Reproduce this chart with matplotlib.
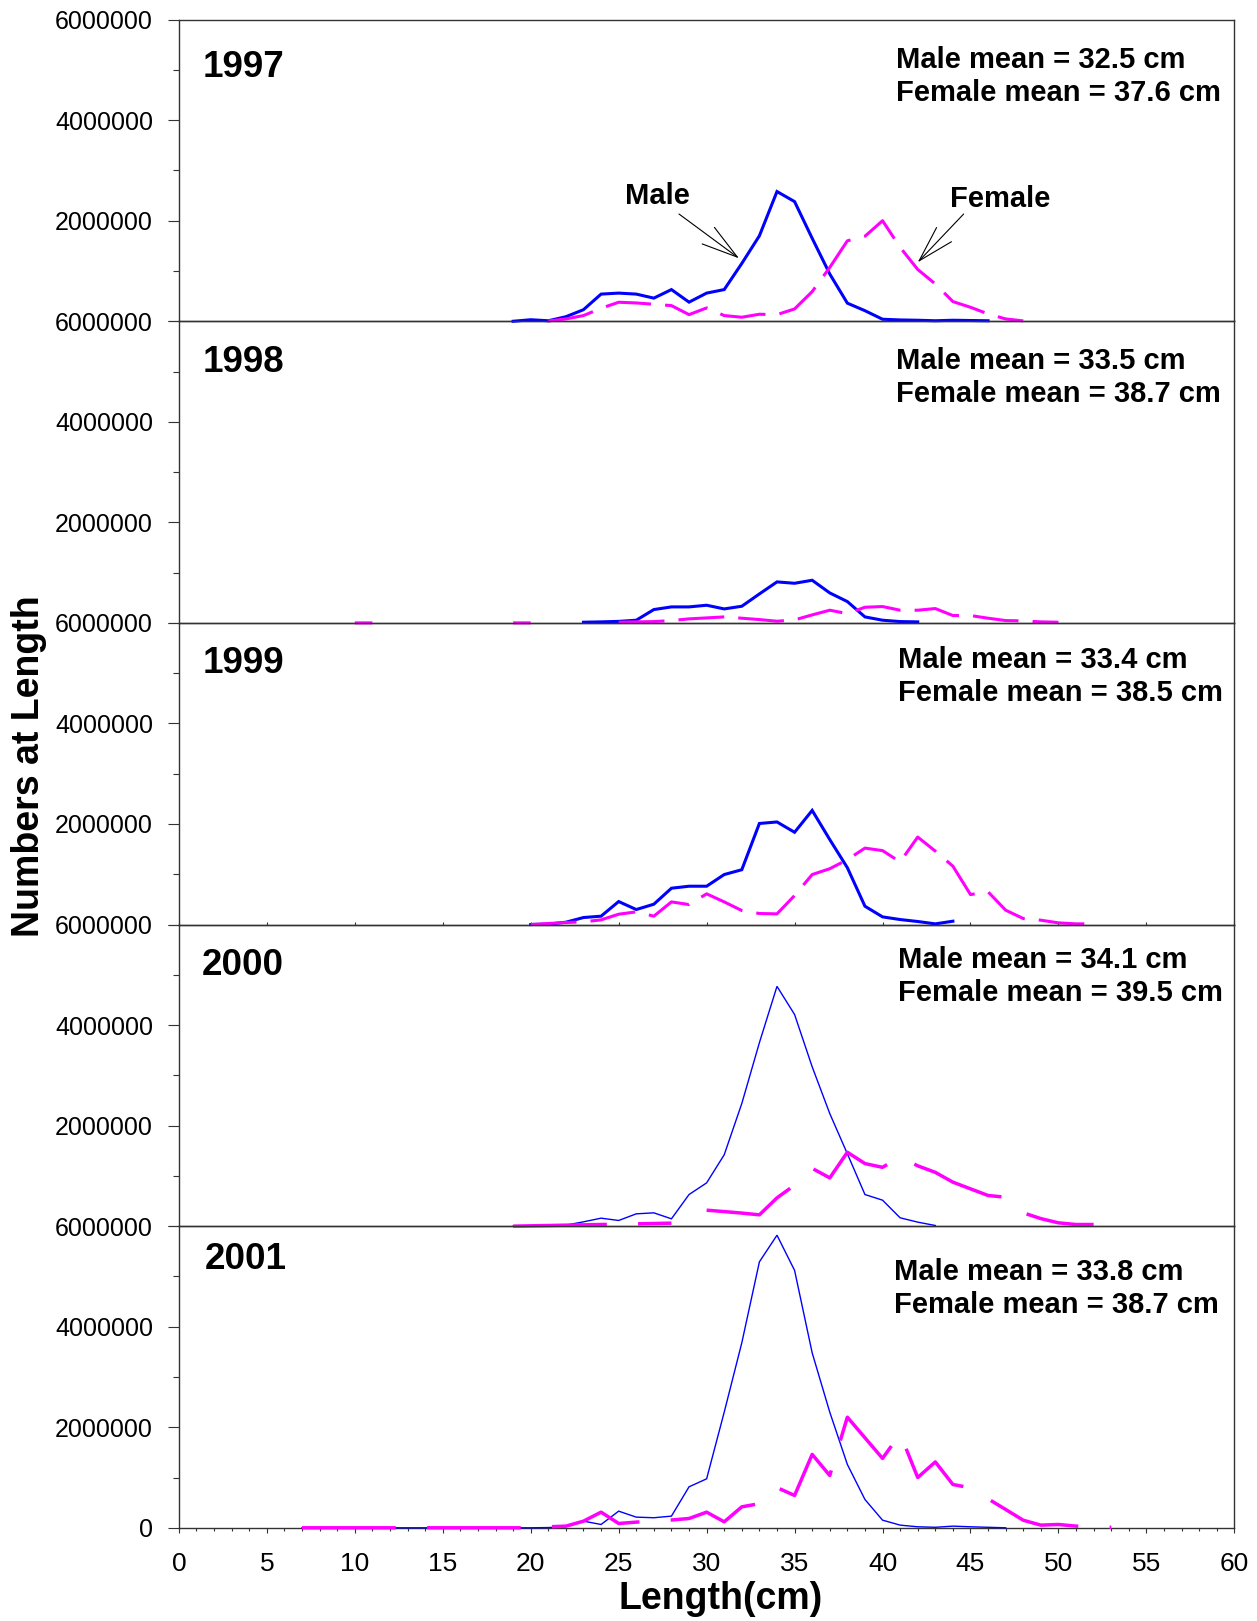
import numpy as np
import matplotlib
matplotlib.use("Agg")
import matplotlib.pyplot as plt
from matplotlib.ticker import MultipleLocator, FixedLocator

plt.rcParams["font.family"] = ["Liberation Sans", "DejaVu Sans"]

nan = np.nan

# numbers at length, by year and sex (cm -> count)
len_m_1997 = np.arange(19, 47)
male_1997 = [0, 30000, 10000, 90000, 230000, 540000, 560000, 540000, 460000, 630000,
             380000, 560000, 630000, 1150000, 1700000, 2580000, 2380000, 1650000,
             940000, 360000, 210000, 40000, 26000, 20000, 10000, 20000, 15000, 10000]
len_f_1997 = np.arange(21, 49)
female_1997 = [5000, 46000, 113000, 258000, 378000, 364000, 338000, 311000, 132000,
               265000, 113000, 80000, 139000, 132000, 245000, 590000, 1070000,
               1600000, 1690000, 2000000, 1470000, 1030000, 742000, 391000, 278000,
               146000, 46000, 7000]

len_m_1998 = np.arange(23, 43)
male_1998 = [13000, 20000, 30000, 53000, 265000, 318000, 318000, 351000, 278000,
             331000, 576000, 815000, 788000, 848000, 596000, 424000, 119000, 53000,
             26000, 20000]
len_f_1998 = np.arange(10, 51)
female_1998 = [0, 0, nan, nan, nan, nan, nan, nan, nan, 0, 0, nan, nan, nan, nan,
               13000, 20000, 26000, 46000, 80000, 99000, 119000, 93000, 66000, 33000,
               60000, 159000, 252000, 185000, 311000, 325000, 252000, 252000, 285000,
               146000, 146000, 93000, 46000, 40000, 20000, 13000]

len_m_1999 = np.arange(20, 45)
male_1999 = [0, 7000, 46000, 139000, 166000, 457000, 298000, 404000, 722000, 762000,
             762000, 994000, 1090000, 2010000, 2040000, 1835000, 2270000, 1690000,
             1130000, 364000, 152000, 99000, 60000, 13000, 66000]
len_f_1999 = np.arange(20, 53)
female_1999 = [0, 20000, 40000, 53000, 93000, 205000, 252000, 166000, 450000, 397000,
               610000, 450000, 278000, 219000, 212000, 576000, 994000, 1110000,
               1290000, 1520000, 1470000, 1245000, 1740000, 1460000, 1160000, 596000,
               649000, 285000, 119000, 86000, 33000, 13000, 13000]

len_m_2000 = np.arange(19, 44)
male_2000 = [0, 5000, 10000, 20000, 86000, 159000, 113000, 245000, 265000, 146000,
             629000, 861000, 1420000, 2440000, 3650000, 4770000, 4210000, 3170000,
             2240000, 1440000, 629000, 517000, 166000, 80000, 13000]
len_f_2000 = np.arange(19, 53)
female_2000 = [0, 7000, 13000, 20000, 26000, 33000, 40000, 46000, 53000, 60000, nan,
               318000, 290000, 260000, 225000, 563000, 815000, 1150000, 960000,
               1470000, 1245000, 1170000, 1380000, 1200000, 1070000, 875000, 742000,
               610000, 576000, 265000, 150000, 66000, 33000, 33000]

len_m_2001 = np.arange(7, 48)
male_2001 = [0] * 14 + [5000, 20000, 132000, 66000, 331000, 212000, 200000, 232000,
                        815000, 974000, 2300000, 3680000, 5290000, 5820000, 5120000,
                        3480000, 2300000, 1260000, 563000, 152000, 53000, 20000,
                        10000, 33000, 20000, 10000, 0]
len_f_2001 = np.arange(7, 54)
female_2001 = [0] * 14 + [20000, 33000, 132000, 311000, 86000, 113000, 130000, 155000,
                          185000, 311000, 119000, 417000, 480000, 800000, 643000,
                          1460000, 1040000, 2200000, 1790000, 1380000, 1870000,
                          1000000, 1310000, 861000, 795000, 576000, 364000, 150000,
                          53000, 66000, 33000, 20000, 10000]

years = ["1997", "1998", "1999", "2000", "2001"]
male_means = [32.5, 33.5, 33.4, 34.1, 33.8]
female_means = [37.6, 38.7, 38.5, 39.5, 38.7]

male_len = [len_m_1997, len_m_1998, len_m_1999, len_m_2000, len_m_2001]
male_num = [male_1997, male_1998, male_1999, male_2000, male_2001]
female_len = [len_f_1997, len_f_1998, len_f_1999, len_f_2000, len_f_2001]
female_num = [female_1997, female_1998, female_1999, female_2000, female_2001]

# label placement per panel (axes fraction)
year_pos = [(0.0225, 0.840), (0.0225, 0.862), (0.0225, 0.864), (0.0215, 0.864), (0.0245, 0.889)]
mean_pos = [(0.6795, 0.811), (0.6795, 0.813), (0.6814, 0.823), (0.6814, 0.827), (0.6776, 0.793)]

BLUE = "#0000ff"
MAGENTA = "#ff00ff"
AXC = "#333333"

fig = plt.figure(figsize=(12.57, 16.21), dpi=100)
axes = fig.subplots(5, 1, sharex=True)
fig.subplots_adjust(left=0.1423, right=0.982, top=0.9879, bottom=0.0575, hspace=0)

for i, ax in enumerate(axes):
    ax.set_facecolor("none")
    thin = i >= 3
    m_lw = 1.0 if thin else 2.2
    f_lw = 2.5 if thin else 2.2
    dash = (0, (27, 9)) if thin else (0, (15, 4.6))

    ax.plot(male_len[i], male_num[i], color=BLUE, lw=m_lw, zorder=3, clip_on=False,
            solid_joinstyle="miter")
    ax.plot(female_len[i], female_num[i], color=MAGENTA, lw=f_lw, ls=dash, zorder=3,
            clip_on=False, dash_capstyle="butt")

    ax.set_xlim(0, 60)
    ax.set_ylim(0, 6000000)
    ax.yaxis.set_major_locator(FixedLocator([0, 2000000, 4000000, 6000000]))
    ax.yaxis.set_minor_locator(MultipleLocator(1000000))
    ylabels = ["0" if i == 4 else "", "2000000", "4000000", "6000000"]
    ax.set_yticklabels(ylabels)
    ax.tick_params(axis="y", which="major", direction="out", length=7.7, width=0.8,
                   color=AXC, labelsize=18, pad=11)
    ax.tick_params(axis="y", which="minor", direction="out", length=4.3, width=0.8,
                   color=AXC)
    for sp in ax.spines.values():
        sp.set_color(AXC)
        sp.set_linewidth(1.0)

    ax.text(*year_pos[i], years[i], transform=ax.transAxes, fontsize=26.5,
            fontweight="bold", ha="left", va="center")
    ax.text(*mean_pos[i],
            f"Male mean = {male_means[i]:.1f} cm\nFemale mean = {female_means[i]:.1f} cm",
            transform=ax.transAxes, fontsize=21, fontweight="bold", ha="left",
            va="center", linespacing=1.24)

    if i < 4:
        ax.tick_params(axis="x", which="both", bottom=False, labelbottom=False)
        if i == 2:
            ax.tick_params(axis="x", which="major", bottom=True, direction="in",
                           length=2.2, width=0.8, color=AXC)

bottom = axes[-1]
bottom.xaxis.set_major_locator(MultipleLocator(5))
bottom.xaxis.set_minor_locator(MultipleLocator(1))
bottom.tick_params(axis="x", which="major", direction="out", length=3.3, width=0.8,
                   color=AXC, labelsize=19, pad=14)
bottom.tick_params(axis="x", which="minor", direction="out", length=1.8, width=0.8,
                   color=AXC)

fig.text(720.5 / 1257, 1 - 1599 / 1621, "Length(cm)", fontsize=27, fontweight="bold",
         ha="center", va="center")
fig.text(29 / 1257, 1 - 766 / 1621, "Numbers at Length", rotation=90, fontsize=27,
         fontweight="bold", ha="center", va="center")

# Male / Female call-outs on the 1997 panel
top = axes[0]
arrow = dict(arrowstyle="->,head_length=2.6,head_width=0.74", mutation_scale=10,
             lw=0.8, color="black", shrinkA=0, shrinkB=0)
top.text(27.2, 2500000, "Male", fontsize=21, fontweight="bold", ha="center", va="center")
top.annotate("", xy=(31.84, 1252000), xytext=(28.43, 2133000), arrowprops=arrow)
top.text(46.66, 2440000, "Female", fontsize=21, fontweight="bold", ha="center", va="center")
top.annotate("", xy=(42.0, 1173000), xytext=(44.61, 2133000), arrowprops=arrow)

fig.savefig("out.png", dpi=100)
